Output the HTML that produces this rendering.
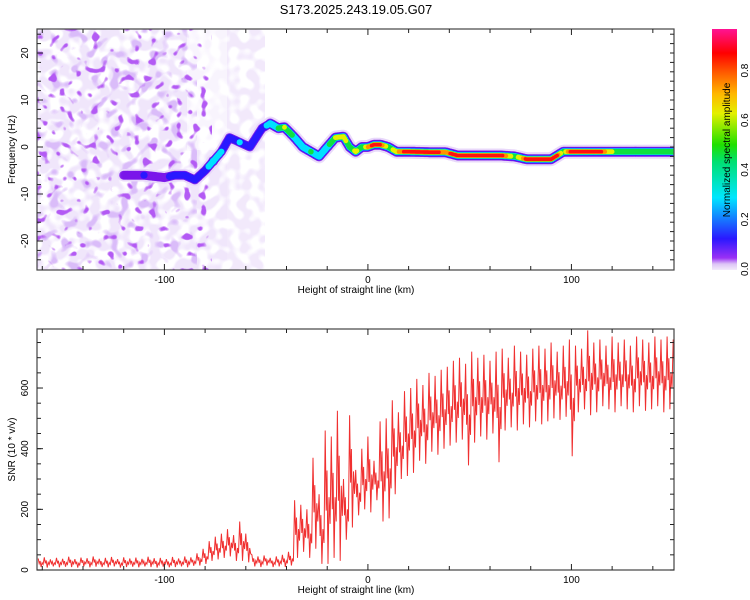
<!DOCTYPE html>
<html><head><meta charset="utf-8"><style>
html,body{margin:0;padding:0;background:#fff}
svg{display:block;font-family:"Liberation Sans",sans-serif}
</style></head><body>
<svg id="chart" width="750" height="600" viewBox="0 0 750 600">
<defs>
<filter id="noiseLight" x="0" y="0" width="1" height="1" filterUnits="objectBoundingBox">
<feTurbulence type="fractalNoise" baseFrequency="0.1" numOctaves="1" seed="4" result="t"/>
<feColorMatrix in="t" type="matrix" values="0 0 0 0 0.87 0 0 0 0 0.79 0 0 0 0 0.97 7 0 0 0 -2.9" result="c"/>
<feComposite in="c" in2="SourceGraphic" operator="in"/>
</filter>
<filter id="noiseMid" x="0" y="0" width="1" height="1" filterUnits="objectBoundingBox">
<feTurbulence type="fractalNoise" baseFrequency="0.1" numOctaves="1" seed="7" result="t"/>
<feColorMatrix in="t" type="matrix" values="0 0 0 0 0.7 0 0 0 0 0.5 0 0 0 0 0.95 9 0 0 0 -5.0" result="c"/>
<feComposite in="c" in2="SourceGraphic" operator="in"/>
</filter>
<filter id="noiseDark" x="0" y="0" width="1" height="1" filterUnits="objectBoundingBox">
<feTurbulence type="fractalNoise" baseFrequency="0.12" numOctaves="1" seed="11" result="t"/>
<feColorMatrix in="t" type="matrix" values="0 0 0 0 0.45 0 0 0 0 0.1 0 0 0 0 0.9 12 0 0 0 -7.4" result="c"/>
<feComposite in="c" in2="SourceGraphic" operator="in"/>
</filter>
<linearGradient id="cbar" x1="0" y1="1" x2="0" y2="0">
<stop offset="0" stop-color="#f3ebfb"/><stop offset="0.025" stop-color="#dcc4f6"/>
<stop offset="0.05" stop-color="#9a30f5"/><stop offset="0.13" stop-color="#2a18ff"/>
<stop offset="0.3" stop-color="#00e6ff"/><stop offset="0.45" stop-color="#00e070"/>
<stop offset="0.52" stop-color="#20e000"/><stop offset="0.65" stop-color="#e4f000"/>
<stop offset="0.73" stop-color="#ffb800"/><stop offset="0.82" stop-color="#ff5a00"/>
<stop offset="0.9" stop-color="#ff0000"/><stop offset="1" stop-color="#ff1393"/>
</linearGradient>
<clipPath id="clipTop"><rect x="37" y="29" width="637" height="241"/></clipPath>
<clipPath id="clipBot"><rect x="37" y="329" width="637" height="241"/></clipPath>
</defs>
<text x="356" y="14" font-size="13" text-anchor="middle">S173.2025.243.19.05.G07</text>
<g id="topPanel" clip-path="url(#clipTop)">
<g>
<rect x="37" y="29" width="150" height="241" fill="#000" filter="url(#noiseLight)"/>
<rect x="187" y="150" width="40" height="120" fill="#000" filter="url(#noiseLight)"/>
<rect x="187" y="29" width="40" height="121" fill="#000" filter="url(#noiseLight)" opacity="0.4"/>
<rect x="227" y="29" width="38" height="241" fill="#000" filter="url(#noiseLight)" opacity="0.85"/>
<rect x="37" y="29" width="160" height="241" fill="#000" filter="url(#noiseMid)"/>
<rect x="37" y="29" width="175" height="241" fill="#000" filter="url(#noiseDark)"/>
</g>
<g id="ridge"></g>
</g>
<g id="topAxes"></g>
<g id="colorbar">
<rect x="712" y="29" width="25" height="241" fill="url(#cbar)"/>
<text transform="translate(730,150) rotate(-90)" font-size="10" text-anchor="middle">Normalized spectral amplitude</text>
</g>
<g id="botPanel" clip-path="url(#clipBot)"></g>
<g id="botAxes"></g>
</svg>
<script>
// ---- Spectrogram ridge data ----
const ridgeKm   = [-120,-110,-100,-95,-90,-85,-80,-76,-72,-68,-63,-58,-52,-48,-44,-41,-36,-32,-28,-24,-20,-16,-12,-9,-6,-3,0,3,6,10,14,20,30,38,44,50,65,72,78,84,90,93,96,100,108,113,120,130,140,150];
const ridgeFreq = [-6,-6,-6.5,-6,-6,-7,-5,-3,-1,2,1,0,4,5,4,4.2,2,0,-1,-2,0,2,2.2,0,-1,0,0,0.5,0.5,0,-1,-1,-1.1,-1.1,-1.8,-1.8,-1.8,-2,-2.6,-2.6,-2.6,-1.8,-1,-1,-1,-1,-1,-1,-1,-1];
const ridgeAmp  = [0.1,0.12,0.1,0.15,0.2,0.15,0.22,0.3,0.25,0.2,0.25,0.15,0.2,0.3,0.4,0.6,0.35,0.3,0.4,0.3,0.35,0.6,0.7,0.5,0.65,0.45,0.8,0.9,0.85,0.5,0.7,0.95,0.95,0.8,0.95,0.95,0.95,0.5,0.9,0.9,0.9,0.85,0.5,0.95,0.95,0.95,0.6,0.5,0.5,0.5];
// ---- SNR data ----
const snrKm = [-162,-159,-156,-153,-150,-147,-144,-141,-138,-135,-132,-129,-126,-123,-120,-117,-114,-111,-108,-105,-102,-99,-96,-93,-90,-87,
-84,-81,-78,-75,-72,-69,-66,-63,-60,-57,-54,-51,-48,-45,-42,-39,
-36,-33,-30,-27,-24,-21,-18,-15,-12,-9,-6,-3,
0,3,6,9,12,15,18,21,24,27,30,33,36,
39,42,45,48,51,54,57,60,63,66,69,72,75,78,81,84,
87,90,93,96,99,102,105,108,111,114,117,120,123,126,129,132,135,138,141,144,147,150];
const snrHi = [38,42,35,40,37,44,36,41,39,45,37,40,43,36,42,38,41,37,44,39,40,36,43,38,45,42,
55,70,95,110,120,135,115,160,120,50,45,48,40,45,50,60,
230,215,200,370,250,460,440,525,300,510,330,400,
440,360,490,500,560,520,590,600,630,610,650,640,660,
670,690,700,680,720,700,710,690,720,730,700,740,720,710,730,740,
730,750,720,740,760,740,730,790,750,760,740,770,750,760,740,770,760,750,770,760,770,760];
const snrLo = [10,8,12,9,11,10,8,12,9,11,10,9,12,8,10,11,9,12,10,8,11,9,10,12,9,14,
15,20,30,35,40,45,30,30,25,12,10,15,10,12,10,15,
40,60,40,70,20,20,40,30,100,140,180,200,
190,230,160,170,250,300,310,320,360,350,390,380,400,
410,420,430,345,420,440,430,450,355,460,470,460,480,470,490,480,
490,500,495,505,375,520,530,510,520,540,530,520,540,530,520,540,525,530,540,520,530,600];
const xTicks = [-100,0,100];
const freqTicks = [-20,-10,0,10,20];
const snrTicks = [0,200,400,600];
const cbTicks = [0.0,0.2,0.4,0.6,0.8];

const NS='http://www.w3.org/2000/svg';
const X0=37,X1=674,KMIN=-162.6,KMAX=150.4;
const xs = k => X0+(k-KMIN)/(KMAX-KMIN)*(X1-X0);
const yf = f => 147-f*4.7;
const ys = v => 570-v*0.3033;
const yc = v => 269-v*248;
function mk(tag,attrs,parent){const e=document.createElementNS(NS,tag);for(const k in attrs)e.setAttribute(k,attrs[k]);parent.appendChild(e);return e;}

// ridge
const ridge=document.getElementById('ridge');
const layers=[[0,7,'#e8d8fa',0.8],[0,5,'#7a18ea',0.85],[0.12,4,'#2a18ff',1],[0.25,3.4,'#00e0ff',1],[0.4,2.8,'#10e040',1],[0.6,2.4,'#e6f000',1],[0.75,2.1,'#ff9000',1],[0.85,1.8,'#ff1010',1]];
const samples=[];
for(let i=0;i<ridgeKm.length-1;i++){
  const n=Math.max(1,Math.round((ridgeKm[i+1]-ridgeKm[i])/0.6));
  for(let j=0;j<n;j++){const t=j/n;samples.push([ridgeKm[i]+t*(ridgeKm[i+1]-ridgeKm[i]),ridgeFreq[i]+t*(ridgeFreq[i+1]-ridgeFreq[i]),ridgeAmp[i]+t*(ridgeAmp[i+1]-ridgeAmp[i])]);}
}
samples.push([ridgeKm[ridgeKm.length-1],ridgeFreq[ridgeFreq.length-1],ridgeAmp[ridgeAmp.length-1]]);
layers.forEach(([th,r,c,o])=>{
  samples.forEach(([k,f,a])=>{
    if(a>=th){
      const rr = a<0.3 ? r*0.9 : r;
      const e=mk('ellipse',{cx:xs(k).toFixed(1),cy:yf(f).toFixed(1),rx:rr.toFixed(1),ry:rr.toFixed(1),fill:c,'fill-opacity':o},ridge);
      
      }
  });
});

function axes(g,y0,y1,yTicksVals,yfun,minorY,label){
  mk('rect',{x:X0,y:y0,width:X1-X0,height:y1-y0,fill:'none',stroke:'#444','stroke-width':1.2},g);
  for(let k=-160;k<=150;k+=20){const x=xs(k);const L=(k%100===0)?6:4;
    mk('line',{x1:x,y1:y0,x2:x,y2:y0+L,stroke:'#222'},g);mk('line',{x1:x,y1:y1,x2:x,y2:y1-L,stroke:'#222'},g);}
  xTicks.forEach(k=>{const t=mk('text',{x:xs(k),y:y1+13,'font-size':10,'text-anchor':'middle'},g);t.textContent=String(k);
    });
  const xl=mk('text',{x:356,y:y1+23,'font-size':10,'text-anchor':'middle'},g);xl.textContent='Height of straight line (km)';
  
  minorY.forEach(v=>{const y=yfun(v);if(y<y0||y>y1)return;mk('line',{x1:X0,y1:y,x2:X0+4,y2:y,stroke:'#222'},g);mk('line',{x1:X1,y1:y,x2:X1-4,y2:y,stroke:'#222'},g);});
  yTicksVals.forEach(v=>{const y=yfun(v);mk('line',{x1:X0,y1:y,x2:X0+6,y2:y,stroke:'#222'},g);
    const t=mk('text',{transform:`translate(${X0-9},${y}) rotate(-90)`,'font-size':10,'text-anchor':'middle'},g);t.textContent=String(v);
    });
  const yl=mk('text',{transform:`translate(15,${(y0+y1)/2}) rotate(-90)`,'font-size':10,'text-anchor':'middle'},g);yl.textContent=label;
  
}
const ta=document.getElementById('topAxes');

const fm=[];for(let f=-24;f<=24;f+=2)fm.push(f);
axes(ta,29,270,freqTicks,yf,fm,'Frequency (Hz)');
const ba=document.getElementById('botAxes');

const sm=[];for(let v=0;v<=800;v+=50)sm.push(v);
axes(ba,329,570,snrTicks,ys,sm,'SNR (10 * v/v)');

const cb=document.getElementById('colorbar');
cbTicks.forEach(v=>{const t=mk('text',{transform:`translate(748,${yc(v)}) rotate(-90)`,'font-size':10,'text-anchor':'middle'},cb);t.textContent=v.toFixed(1);
  });

// SNR line
const bp=document.getElementById('botPanel');

let d='';
for(let i=0;i<snrKm.length;i++){
  const k=snrKm[i],h=snrHi[i],l=snrLo[i];
  d+=(i?'L':'M')+xs(k).toFixed(1)+','+ys(h).toFixed(1);
  d+='L'+xs(k+0.5).toFixed(1)+','+ys(l*0.6+h*0.4).toFixed(1);
  d+='L'+xs(k+0.9).toFixed(1)+','+ys(l*0.3+h*0.7).toFixed(1);
  d+='L'+xs(k+1.4).toFixed(1)+','+ys(l).toFixed(1);
  d+='L'+xs(k+1.9).toFixed(1)+','+ys(l*0.5+h*0.5).toFixed(1);
  d+='L'+xs(k+2.4).toFixed(1)+','+ys(l*0.7+h*0.3).toFixed(1);
}
const p=mk('path',{d:d,fill:'none',stroke:'#f03030','stroke-width':1,'stroke-linejoin':'miter'},bp);


</script>
</body></html>
